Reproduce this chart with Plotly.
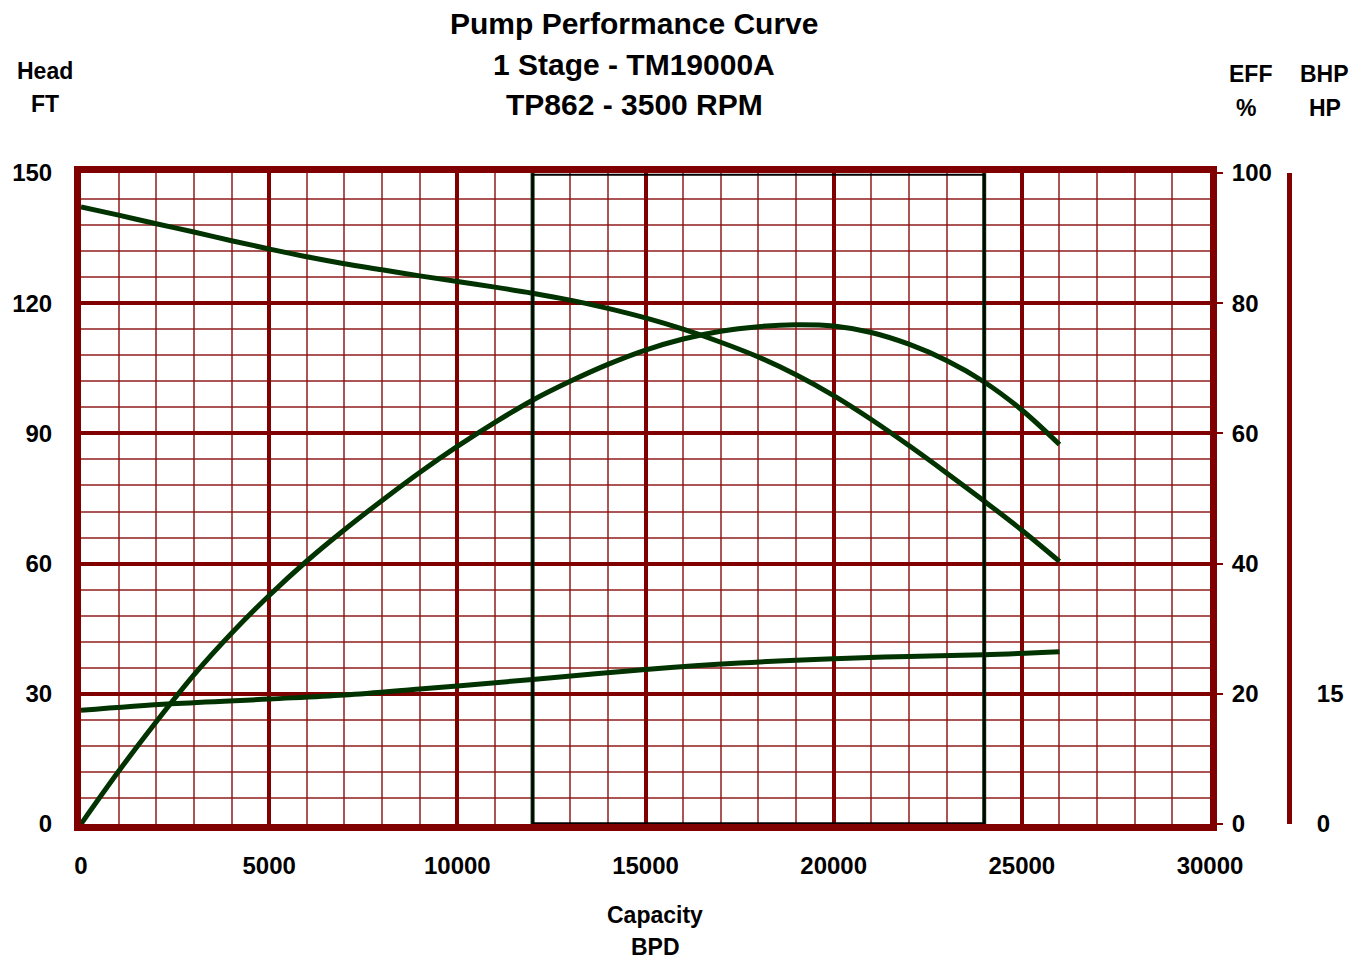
import plotly.graph_objects as go

# ---- data ----
head_x = [0, 1000, 2000, 3000, 4000, 5000, 6000, 7000, 8000, 9000, 10000, 11000, 12000, 13000,
          14000, 15000, 16000, 17000, 18000, 19000, 20000, 21000, 22000, 23000, 24000, 25000, 26000]
head_ft = [142.2, 140.3, 138.3, 136.4, 134.4, 132.5, 130.7, 129.1, 127.7, 126.3, 125.0, 123.7, 122.3, 120.7,
           118.8, 116.6, 114.0, 111.0, 107.6, 103.5, 98.7, 93.2, 87.2, 80.9, 74.4, 67.7, 60.5]

eff_x = head_x
eff_pct = [0, 8.1, 15.7, 22.9, 29.3, 35.1, 40.4, 45.2, 49.7, 54.0, 58.0, 61.7, 65.1, 68.0,
           70.6, 72.8, 74.5, 75.7, 76.4, 76.7, 76.5, 75.5, 73.7, 71.2, 67.9, 63.6, 58.3]

bhp_x = [0, 2400, 5000, 7000, 9000, 10000, 12000, 15000, 17500, 20000, 22000, 24000, 26000]
bhp_hp = [13.1, 13.85, 14.4, 14.85, 15.55, 15.9, 16.65, 17.8, 18.55, 19.05, 19.3, 19.5, 19.85]

operating_range = [12000, 24000]

x_ticks = [0, 5000, 10000, 15000, 20000, 25000, 30000]
head_ticks = [0, 30, 60, 90, 120, 150]
eff_ticks = [0, 20, 40, 60, 80, 100]
bhp_ticks = [0, 15]

title_lines = ["Pump Performance Curve", "1 Stage - TM19000A", "TP862 - 3500 RPM"]

# ---- style ----
MAROON = "#800000"
MINOR = "rgba(140,20,20,0.72)"
GREEN = "#003300"
FONT = "Liberation Sans, Arial, sans-serif"

fig = go.Figure()

# operating range box (thin black)
fig.add_shape(type="rect", xref="x", yref="y",
              x0=operating_range[0], x1=operating_range[1], y0=0.2, y1=149.6,
              line=dict(color="black", width=2), layer="above")

for xv in operating_range:
    fig.add_trace(go.Scatter(x=[xv, xv], y=[head_ticks[0], head_ticks[-1]], mode="lines",
                             line=dict(color=GREEN, width=4), hoverinfo="skip", yaxis="y"))

fig.add_trace(go.Scatter(x=head_x, y=head_ft, mode="lines", line=dict(color=GREEN, width=5, shape="spline"),
                         name="Head", yaxis="y"))
fig.add_trace(go.Scatter(x=eff_x, y=eff_pct, mode="lines", line=dict(color=GREEN, width=5, shape="spline"),
                         name="EFF", yaxis="y2"))
fig.add_trace(go.Scatter(x=bhp_x, y=bhp_hp, mode="lines", line=dict(color=GREEN, width=5, shape="spline"),
                         name="BHP", yaxis="y3"))

# page has an 8px body margin: figure is sized/positioned to compensate
OFF = 8
PL, PR, PT, PB = 81, 1210, 173, 824      # plot-area edges in page pixels
PAPER_R = 1300
W, H = 1364 - OFF, 962 - OFF
ml, mr, mt = PL - OFF, W - (PAPER_R - OFF), PT - OFF
mb = H - (PB - OFF)
pw = W - ml - mr
x_end = (PR - PL) / pw
bhp_pos = (1289 - PL) / pw

tickfont = dict(family=FONT, size=24, color="black", weight="bold")

fig.update_layout(
    width=W, height=H,
    margin=dict(l=ml, r=mr, t=mt, b=mb, autoexpand=False),
    paper_bgcolor="white", plot_bgcolor="white",
    showlegend=False,
    xaxis=dict(domain=[0, x_end], range=[0, 30000], tickvals=x_ticks, tickformat="d",
               showgrid=True, gridcolor=MAROON, gridwidth=4,
               minor=dict(dtick=1000, showgrid=True, gridcolor=MINOR, gridwidth=1.5),
               showline=True, linecolor=MAROON, linewidth=7, mirror=True, automargin=False,
               ticks="", ticklabelstandoff=14, tickfont=tickfont, zeroline=False),
    yaxis=dict(range=[0, 150], tickvals=head_ticks,
               showgrid=True, gridcolor=MAROON, gridwidth=4,
               minor=dict(dtick=6, showgrid=True, gridcolor=MINOR, gridwidth=1.5),
               showline=True, linecolor=MAROON, linewidth=7, mirror=True, automargin=False,
               ticks="", ticklabelstandoff=17, tickfont=tickfont, zeroline=False),
    yaxis2=dict(range=[0, 100], tickvals=eff_ticks, overlaying="y", side="right", anchor="x",
                showgrid=False, zeroline=False, showline=False, automargin=False,
                ticks="outside", ticklen=12, tickwidth=2, tickcolor=MAROON,
                ticklabelstandoff=4, tickfont=tickfont),
    yaxis3=dict(range=[0, 75], tickvals=bhp_ticks, overlaying="y", side="right", anchor="free",
                position=bhp_pos, showgrid=False, zeroline=False, automargin=False,
                showline=True, linecolor=MAROON, linewidth=5,
                ticks="", ticklabelstandoff=20, tickfont=tickfont),
)

def ppix(p):
    return (PB - p) / (PB - PT)

def xpix(p):
    return (p - PL) / pw

ann = []
title_y = [23, 64, 105]
for t, yy in zip(title_lines, title_y):
    ann.append(dict(text="<b>%s</b>" % t, x=xpix(634), y=ppix(yy), xref="paper", yref="paper",
                    showarrow=False, xanchor="center", yanchor="middle", borderpad=0,
                    font=dict(family=FONT, size=30, color="black")))

labels = [("Head", 45, 71), ("FT", 45, 104), ("EFF", 1250, 74), ("%", 1246, 108),
          ("BHP", 1324, 74), ("HP", 1325, 108), ("Capacity", 655, 915), ("BPD", 655, 947)]
for t, xx, yy in labels:
    ann.append(dict(text="<b>%s</b>" % t, x=xpix(xx), y=ppix(yy), xref="paper", yref="paper",
                    showarrow=False, xanchor="center", yanchor="middle", borderpad=0,
                    font=dict(family=FONT, size=23, color="black")))
fig.update_layout(annotations=ann)

fig.write_html("out.html")
